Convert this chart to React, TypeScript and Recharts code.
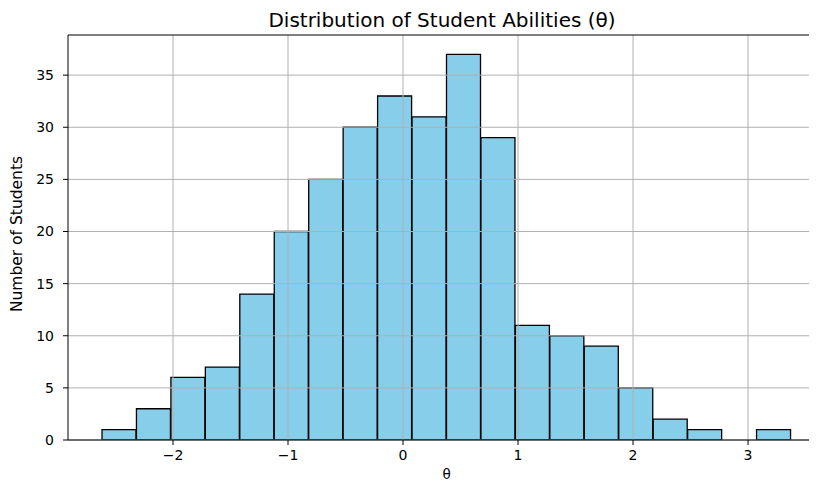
import { BarChart, Bar, XAxis, YAxis, ReferenceLine, Label } from 'recharts';

// histogram bins of student ability estimates
const binLabels = [
  '-2.47', '-2.17', '-1.87', '-1.57', '-1.27', '-0.97', '-0.67', '-0.37', '-0.07', '0.23',
  '0.53', '0.83', '1.13', '1.43', '1.73', '2.03', '2.33', '2.63', '2.93', '3.23',
];
const binMids = [
  -2.467, -2.167, -1.868, -1.568, -1.269, -0.969, -0.669, -0.37, -0.07, 0.229,
  0.529, 0.829, 1.128, 1.428, 1.727, 2.027, 2.327, 2.626, 2.926, 3.225,
];
const counts = [1, 3, 6, 7, 14, 20, 25, 30, 33, 31, 37, 29, 11, 10, 9, 5, 2, 1, 0, 1];

const xTicks = [-2, -1, 0, 1, 2, 3];
const yTicks = [0, 5, 10, 15, 20, 25, 30, 35];
const xDomain = [-2.913, 3.591];
const yMax = 38.85;

const data = binLabels.map((label, i) => ({ label, mid: binMids[i], count: counts[i] }));

const FONT = 'DejaVu Sans, sans-serif';
const GRID = '#b0b0b0';

const minus = (v: number) => String(v).replace('-', '\u2212');

export default function App() {
  return (
    <div style={{ position: 'relative', width: 809, height: 474, fontFamily: FONT }}>
      <div
        style={{
          position: 'absolute',
          left: 60,
          width: 748,
          top: 0,
          textAlign: 'center',
          fontSize: 20,
          lineHeight: '24px',
          color: '#000',
        }}
      >
        Distribution of Student Abilities (θ)
      </div>
      <BarChart
        width={809}
        height={474}
        data={data}
        margin={{ top: 27, right: 1, bottom: 0, left: 0 }}
        barCategoryGap={0}
        barGap={0}
      >
        <XAxis xAxisId="bins" dataKey="label" hide height={0} padding={{ left: 34, right: 25 }} />
        <XAxis
          xAxisId="num"
          dataKey="mid"
          type="number"
          domain={xDomain}
          ticks={xTicks}
          allowDataOverflow
          tickFormatter={minus}
          stroke="#000"
          tick={{ fill: '#000', fontSize: 14, fontFamily: FONT }}
          tickSize={5}
          tickMargin={5}
          height={42}
        >
          <Label
            content={() => (
              <text x={438.7} y={470.5} textAnchor="middle" fontSize={13.5} fontFamily={FONT} fill="#000">
                θ
              </text>
            )}
          />
        </XAxis>
        <YAxis
          domain={[0, yMax]}
          ticks={yTicks}
          allowDataOverflow
          width={60}
          stroke="#000"
          tick={{ fill: '#000', fontSize: 14, fontFamily: FONT }}
          tickSize={5}
          tickMargin={9}
        >
          <Label
            content={() => (
              <text
                x={9.5}
                y={226}
                transform="rotate(-90 9.5 226)"
                textAnchor="middle"
                dominantBaseline="middle"
                fontSize={15.5}
                fontFamily={FONT}
                fill="#000"
              >
                Number of Students
              </text>
            )}
          />
        </YAxis>
        <Bar
          xAxisId="bins"
          dataKey="count"
          fill="#87CEEB"
          stroke="#000"
          strokeWidth={1.3}
          isAnimationActive={false}
        />
        {xTicks.map((t) => (
          <ReferenceLine key={'x' + t} xAxisId="num" x={t} stroke={GRID} strokeWidth={1} />
        ))}
        {yTicks.map((t) => (
          <ReferenceLine key={'y' + t} xAxisId="num" y={t} stroke={GRID} strokeWidth={1} />
        ))}
        <ReferenceLine xAxisId="num" y={yMax} stroke="#000" strokeWidth={1} />
      </BarChart>
    </div>
  );
}
